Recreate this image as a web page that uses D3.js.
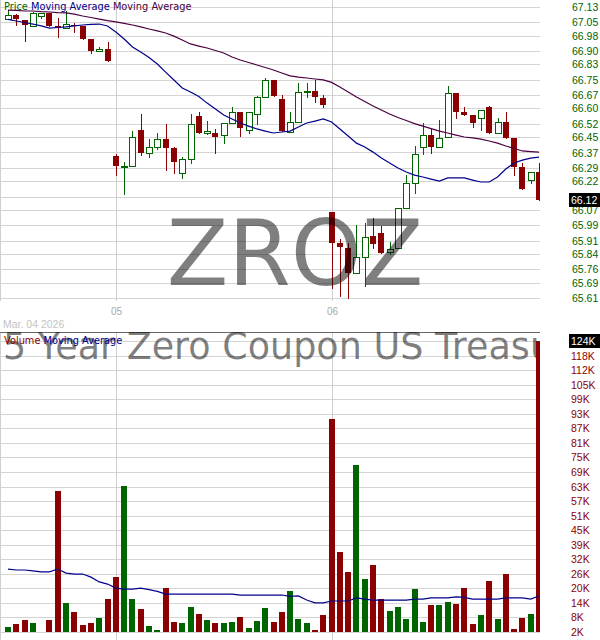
<!DOCTYPE html>
<html><head><meta charset="utf-8">
<script src="https://cdn.jsdelivr.net/npm/d3@7"></script>
<style>body{margin:0;background:#fff}svg{display:block}</style>
</head><body><svg id="c" width="600" height="640"></svg>
<script>
// ---- data ----
const opens  = [67.067,67.088,67.062,67.031,67.083,67.099,67.031,67.020,67.036,67.031,66.963,66.900,66.911,
  66.352,66.294,66.299,66.487,66.367,66.399,66.440,66.393,66.263,66.336,66.561,66.472,66.472,66.461,66.524,66.581,66.487,
  66.571,66.660,66.749,66.649,66.477,66.529,66.689,66.691,66.655,66.059,65.897,65.871,65.740,65.824,65.934,65.949,65.850,
  65.871,66.080,66.210,66.399,66.461,66.399,66.451,66.681,66.581,66.566,66.550,66.608,66.472,66.529,66.446,66.294,66.226,66.268];
const highs  = [67.114,67.093,67.062,67.104,67.099,67.099,67.073,67.109,67.046,67.031,66.963,66.921,66.947,
  66.362,66.320,66.482,66.571,66.440,66.472,66.519,66.399,66.346,66.571,66.581,66.534,66.493,66.524,66.608,66.581,66.581,
  66.665,66.759,66.749,66.670,66.581,66.733,66.733,66.749,66.670,66.059,65.918,65.897,65.991,66.001,66.028,65.986,65.902,
  66.080,66.252,66.404,66.524,66.493,66.540,66.717,66.681,66.608,66.566,66.592,66.613,66.550,66.581,66.446,66.315,66.268,66.315];
const lows   = [67.067,67.036,66.952,67.031,67.073,67.031,66.973,67.020,67.000,66.963,66.890,66.900,66.848,
  66.252,66.153,66.299,66.357,66.346,66.388,66.278,66.263,66.237,66.315,66.472,66.466,66.367,66.420,66.524,66.456,66.472,
  66.519,66.660,66.665,66.482,66.477,66.529,66.660,66.634,66.608,65.662,65.620,65.610,65.740,65.672,65.871,65.845,65.839,
  65.871,66.080,66.158,66.362,66.367,66.399,66.451,66.550,66.566,66.503,66.487,66.472,66.472,66.446,66.252,66.179,66.210,66.122];
const closes = [67.088,67.067,67.036,67.099,67.099,67.031,67.020,67.041,67.031,66.963,66.900,66.911,66.848,
  66.299,66.299,66.451,66.367,66.399,66.440,66.393,66.320,66.336,66.519,66.472,66.482,66.451,66.524,66.581,66.498,66.581,
  66.660,66.749,66.665,66.482,66.529,66.686,66.691,66.660,66.618,65.897,65.876,65.740,65.824,65.928,65.892,65.845,65.866,
  66.080,66.210,66.362,66.461,66.399,66.446,66.681,66.581,66.566,66.524,66.592,66.472,66.529,66.446,66.294,66.179,66.268,66.122];
const maShort = [67.065,67.057,67.049,67.041,67.031,67.020,67.023,67.026,67.031,67.036,67.039,67.041,67.031,66.999,66.963,
  66.921,66.895,66.866,66.832,66.790,66.749,66.707,66.686,66.662,66.628,66.597,66.566,66.545,66.524,66.508,66.493,66.482,
  66.472,66.477,66.482,66.503,66.524,66.534,66.545,66.529,66.493,66.456,66.419,66.399,66.372,66.341,66.315,66.289,66.268,
  66.252,66.242,66.231,66.221,66.237,66.237,66.237,66.226,66.216,66.216,66.242,66.284,66.315,66.330,66.341,66.346];
const maLong = [67.114,67.112,67.109,67.109,67.106,67.104,67.101,67.099,67.093,67.083,67.075,67.067,67.059,67.052,67.044,
  67.036,67.026,67.015,67.005,66.994,66.978,66.958,66.937,66.926,66.916,66.903,66.890,66.869,66.853,66.840,66.827,66.814,
  66.801,66.785,66.770,66.764,66.759,66.754,66.749,66.736,66.712,66.686,66.660,66.636,66.613,66.592,66.571,66.553,66.537,
  66.521,66.508,66.495,66.482,66.472,66.461,66.451,66.446,66.440,66.430,66.419,66.404,66.391,66.378,66.375,66.372];
const volumesK = [4.1,5.4,7.0,5.8,2.0,7.0,61.1,14.2,10.4,4.9,5.8,7.9,15.8,25.1,63.2,15.8,11.6,4.5,2.8,20.4,6.2,5.8,12.5,
  9.5,7.0,5.8,5.8,6.2,8.3,3.7,6.6,12.1,6.2,10.4,19.2,7.5,5.8,2.8,9.1,91.5,35.5,27.2,72.0,24.2,30.1,15.8,10.8,12.5,7.5,
  20.0,6.2,13.3,13.3,14.6,13.7,20.4,5.4,9.1,23.4,7.5,26.3,3.3,7.9,9.5,124];
const volMAK = [28.4,28.0,28.0,27.6,27.2,27.2,28.4,26.7,26.3,26.3,25.0,23.0,22.1,20.4,20.0,20.0,20.4,19.8,19.0,17.9,
  17.9,17.9,17.9,17.9,17.9,17.9,17.9,17.9,17.5,17.5,17.5,17.5,17.5,17.5,16.9,17.1,15.4,14.2,14.2,15.0,
  15.0,15.0,16.3,15.8,15.4,15.4,15.4,15.4,15.4,15.8,15.8,16.3,16.3,16.3,16.7,16.5,15.8,15.8,15.8,15.8,
  16.3,16.3,16.3,15.8,17.1];
const priceTickLabels = ["67.13","67.05","66.98","66.90","66.83","66.75","66.67","66.60","66.52","66.45","66.37",
  "66.29","66.22","66.14","66.07","65.99","65.91","65.84","65.76","65.69","65.61"];
const volTickLabels = ["124K","118K","112K","105K","99K","93K","87K","81K","75K","69K","63K","57K","51K","45K",
  "39K","32K","26K","20K","14K","8K","2K"];
const volTickValuesK = [124,117.9,111.8,105.7,99.6,93.5,87.4,81.3,75.2,69.1,63,56.9,50.8,44.7,38.6,32.5,26.4,20.3,14.2,8.1,2];
const xTickIndex = [13, 39];
const xTickLabels = ["05", "06"];
const lastPriceLabel = "66.12";
const lastVolumeLabel = "124K";
const dateLabel = "Mar. 04 2026";
const symbol = "ZROZ";
const fundName = "25 Year Zero Coupon US Treasury Index Exchange-Traded Fund";

// ---- styles ----
const GREEN = "#006400", RED = "#8b0000", NAVY = "#00008b", PURPLE = "#4b0040", GRID = "#d4d4d4";
const AXF = "'Liberation Sans', Arial, sans-serif";
const LEGF = "'DejaVu Sans', Verdana, sans-serif";

const svg = d3.select("#c");
svg.append("rect").attr("width", 600).attr("height", 640).attr("fill", "#fff");

const n = opens.length;
const data = d3.range(n).map(i => ({i, o: opens[i], h: highs[i], l: lows[i], c: closes[i], v: volumesK[i]}));
const x = d3.scaleLinear().domain([0, n - 1]).range([8, 539]);
const yP = d3.scaleLinear().domain([65.61, 67.13]).range([298, 7]);
const yV = d3.scaleLinear().domain([2, 124]).range([632, 341]);
const px = v => Math.round(x(v));
const plotRight = 540;

const defs = svg.append("defs");
defs.append("clipPath").attr("id", "pclip").append("rect").attr("x", 0).attr("y", 0).attr("width", plotRight).attr("height", 303);
defs.append("clipPath").attr("id", "vclip").append("rect").attr("x", 0).attr("y", 332).attr("width", plotRight).attr("height", 308);

// ---- grids ----
const grid = svg.append("g").attr("shape-rendering", "crispEdges");
grid.selectAll("line.pg").data(priceTickLabels).join("line")
  .attr("x1", 0).attr("x2", plotRight)
  .attr("y1", d => Math.round(yP(+d)) + 0.5).attr("y2", d => Math.round(yP(+d)) + 0.5)
  .attr("stroke", GRID);
grid.selectAll("line.vg").data(volTickValuesK).join("line")
  .attr("x1", 0).attr("x2", plotRight)
  .attr("y1", d => Math.round(yV(d)) + 0.5).attr("y2", d => Math.round(yV(d)) + 0.5)
  .attr("stroke", GRID);
xTickIndex.forEach(i => {
  grid.append("line").attr("x1", px(i) + 0.5).attr("x2", px(i) + 0.5).attr("y1", 0).attr("y2", 301).attr("stroke", "#cfcfcf");
  grid.append("line").attr("x1", px(i) + 0.5).attr("x2", px(i) + 0.5).attr("y1", 333).attr("y2", 640).attr("stroke", "#cfcfcf");
});
grid.append("line").attr("x1", 0.5).attr("x2", 0.5).attr("y1", 0).attr("y2", 301).attr("stroke", "#cfcfcf");
grid.append("line").attr("x1", 0.5).attr("x2", 0.5).attr("y1", 333).attr("y2", 640).attr("stroke", "#cfcfcf");

// ---- legends ----
const leg1 = svg.append("text").attr("x", 4).attr("y", 10).attr("font-family", LEGF).attr("font-size", 9.8);
leg1.append("tspan").attr("fill", GREEN).text("Price ");
leg1.append("tspan").attr("fill", NAVY).text("Moving Average ");
leg1.append("tspan").attr("fill", PURPLE).text("Moving Average");

// ---- candles ----
const pg = svg.append("g").attr("clip-path", "url(#pclip)").attr("shape-rendering", "crispEdges");
pg.selectAll("line.wick").data(data).join("line")
  .attr("x1", d => px(d.i) + 0.5).attr("x2", d => px(d.i) + 0.5)
  .attr("y1", d => Math.round(yP(d.h))).attr("y2", d => Math.round(yP(d.l)) + 1)
  .attr("stroke", d => d.c >= d.o ? GREEN : RED);
pg.selectAll("rect.body").data(data).join("rect")
  .attr("x", d => d.c >= d.o ? px(d.i) - 3 + 0.5 : px(d.i) - 3)
  .attr("width", 6)
  .attr("y", d => { const t = Math.round(yP(Math.max(d.o, d.c))); return d.c >= d.o ? t + 0.5 : t; })
  .attr("height", d => Math.max(1, Math.round(yP(Math.min(d.o, d.c))) - Math.round(yP(Math.max(d.o, d.c)))))
  .attr("fill", d => d.c >= d.o ? "#fff" : RED)
  .attr("stroke", d => d.c >= d.o ? GREEN : "none");

const lineP = d3.line().x((d, i) => x(i)).y(d => yP(d));
pg.append("path").datum(maLong).attr("d", lineP).attr("fill", "none").attr("stroke", PURPLE).attr("stroke-width", 1.2).attr("shape-rendering", "auto");
pg.append("path").datum(maShort).attr("d", lineP).attr("fill", "none").attr("stroke", NAVY).attr("stroke-width", 1.2).attr("shape-rendering", "auto");

// watermark
svg.append("text").attr("x", 295).attr("y", 285).attr("text-anchor", "middle")
  .attr("font-family", LEGF).attr("font-size", 90).attr("fill", "#000").attr("fill-opacity", 0.5)
  .text(symbol);

// ---- x labels ----
svg.selectAll("text.xl").data(xTickIndex).join("text")
  .attr("x", d => px(d) + 0.5).attr("y", 315).attr("text-anchor", "middle")
  .attr("font-family", AXF).attr("font-size", 10).attr("fill", "#a8a8a8")
  .text((d, k) => xTickLabels[k]);
svg.append("text").attr("x", 3).attr("y", 328).attr("font-family", AXF).attr("font-size", 10.5)
  .attr("fill", "#c4c4c4").text(dateLabel);

// ---- volume panel ----
svg.append("line").attr("x1", 0).attr("x2", plotRight).attr("y1", 332.5).attr("y2", 332.5)
  .attr("stroke", "#666").attr("shape-rendering", "crispEdges");
const vg = svg.append("g").attr("clip-path", "url(#vclip)");
vg.append("text").attr("x", -20.3).attr("y", 359).attr("font-family", LEGF).attr("font-size", 36.5)
  .attr("fill", "#000").attr("fill-opacity", 0.5).text(fundName);
const vbars = vg.append("g").attr("shape-rendering", "crispEdges");
vbars.selectAll("rect").data(data.filter(d => d.v > 2)).join("rect")
  .attr("x", d => px(d.i) - 3).attr("width", 6)
  .attr("y", d => Math.round(yV(d.v))).attr("height", d => 632 - Math.round(yV(d.v)))
  .attr("fill", d => d.c >= d.o ? GREEN : RED);
const lineV = d3.line().x((d, i) => x(i)).y(d => yV(d));
vg.append("path").datum(volMAK).attr("d", lineV).attr("fill", "none").attr("stroke", NAVY).attr("stroke-width", 1.2);
const leg2 = svg.append("text").attr("x", 4).attr("y", 344).attr("font-family", LEGF).attr("font-size", 9.8);
leg2.append("tspan").attr("fill", RED).text("Volume ");
leg2.append("tspan").attr("fill", NAVY).text("Moving Average");

// ---- right axes ----
svg.selectAll("text.pl").data(priceTickLabels).join("text")
  .attr("x", 572).attr("y", d => yP(+d) + 4)
  .attr("font-family", AXF).attr("font-size", 10.5).attr("fill", GREEN).text(d => d);
svg.selectAll("text.vl").data(volTickLabels).join("text")
  .attr("x", 571).attr("y", (d, k) => yV(volTickValuesK[k]) + 4)
  .attr("font-family", AXF).attr("font-size", 10.5).attr("fill", RED).text(d => d);

const lastY = yP(closes[n - 1]);
svg.append("rect").attr("x", 569).attr("y", Math.round(lastY) - 7).attr("width", 31).attr("height", 14).attr("fill", "#000");
svg.append("text").attr("x", 571).attr("y", lastY + 4).attr("font-family", AXF).attr("font-size", 10.5).attr("fill", "#fff").text(lastPriceLabel);
const lastV = yV(volumesK[n - 1]);
svg.append("rect").attr("x", 569).attr("y", Math.round(lastV) - 7).attr("width", 31).attr("height", 14).attr("fill", "#000");
svg.append("text").attr("x", 571).attr("y", lastV + 4).attr("font-family", AXF).attr("font-size", 10.5).attr("fill", "#fff").text(lastVolumeLabel);
</script></body></html>
